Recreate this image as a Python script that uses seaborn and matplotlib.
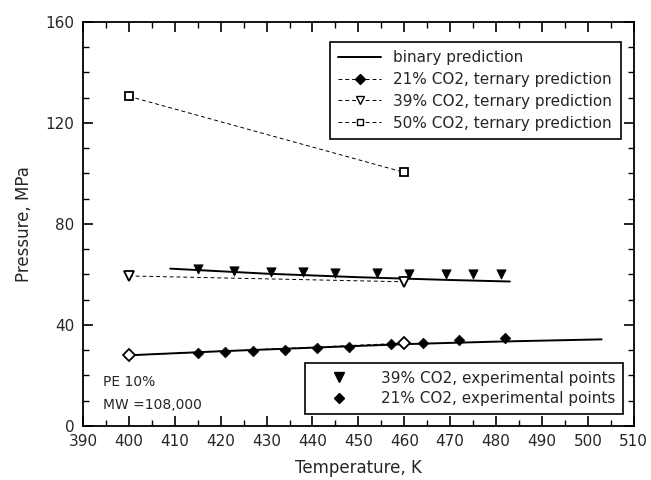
import matplotlib
matplotlib.use("Agg")
import matplotlib.pyplot as plt
import seaborn as sns
import pandas as pd
from matplotlib.lines import Line2D
from matplotlib.ticker import MultipleLocator

# ---- data ----
bin21_T = [400, 420, 440, 460, 480, 503]
bin21_P = [28.0, 29.6, 31.0, 32.4, 33.4, 34.3]
bin39_T = [409, 430, 450, 470, 483]
bin39_P = [62.3, 60.3, 58.9, 57.8, 57.2]

tern21_T = [400, 460]
tern21_P = [28.0, 32.8]
tern39_T = [400, 460]
tern39_P = [59.4, 57.1]
tern50_T = [400, 460]
tern50_P = [130.5, 100.4]

exp39_T = [415, 423, 431, 438, 445, 454, 461, 469, 475, 481]
exp39_P = [62.0, 61.5, 61.0, 61.0, 60.6, 60.4, 60.2, 60.1, 60.0, 60.0]
exp21_T = [415, 421, 427, 434, 441, 448, 457, 464, 472, 482]
exp21_P = [28.8, 29.2, 29.6, 30.0, 30.7, 31.3, 32.3, 32.9, 34.0, 34.7]

sns.set_theme(style="ticks")
plt.rcParams["font.family"] = ["DejaVu Sans"]

fig = plt.figure(figsize=(6.51, 4.80), dpi=100)
ax = fig.add_axes([0.1275, 0.1125, 0.846, 0.842])

lw_dash = 0.7
dash = (4, 3)

# binary prediction lines
sns.lineplot(x=bin21_T, y=bin21_P, ax=ax, color="black", lw=1.4)
sns.lineplot(x=bin39_T, y=bin39_P, ax=ax, color="black", lw=1.4)

# ternary predictions
sns.lineplot(x=tern21_T, y=tern21_P, ax=ax, color="black", lw=lw_dash)
ax.lines[-1].set_dashes(dash)
sns.lineplot(x=tern39_T, y=tern39_P, ax=ax, color="black", lw=lw_dash)
ax.lines[-1].set_dashes(dash)
sns.lineplot(x=tern50_T, y=tern50_P, ax=ax, color="black", lw=lw_dash)
ax.lines[-1].set_dashes(dash)

ax.plot(tern21_T, tern21_P, ls="none", marker="D", ms=6, mfc="white", mec="black", mew=1.3)
ax.plot(tern39_T, tern39_P, ls="none", marker="v", ms=7, mfc="white", mec="black", mew=1.3)
ax.plot(tern50_T, tern50_P, ls="none", marker="s", ms=6, mfc="white", mec="black", mew=1.3)

# experimental points
sns.scatterplot(x=exp39_T, y=exp39_P, ax=ax, marker="v", s=45, color="black", edgecolor="black")
sns.scatterplot(x=exp21_T, y=exp21_P, ax=ax, marker="D", s=30, color="black", edgecolor="black")

ax.set_xlim(390, 510)
ax.set_ylim(0, 160)
ax.xaxis.set_major_locator(MultipleLocator(10))
ax.xaxis.set_minor_locator(MultipleLocator(5))
ax.yaxis.set_major_locator(MultipleLocator(40))
ax.yaxis.set_minor_locator(MultipleLocator(10))
ax.tick_params(which="both", direction="in", top=True, right=True, color="black")
ax.tick_params(which="major", length=7, width=1.2, labelsize=11)
ax.tick_params(axis="x", which="major", pad=6)
ax.tick_params(axis="y", which="major", pad=6)
ax.tick_params(which="minor", length=4, width=1.0)
for s in ax.spines.values():
    s.set_color("black")
    s.set_linewidth(1.3)

ax.set_xlabel("Temperature, K", fontsize=12, labelpad=7)
ax.set_ylabel("Pressure, MPa", fontsize=12, labelpad=9)

ax.text(0.036, 0.109, "PE 10%", transform=ax.transAxes, fontsize=10, va="center")
ax.text(0.036, 0.052, "MW =108,000", transform=ax.transAxes, fontsize=10, va="center")

h1 = [
    Line2D([], [], color="black", lw=1.4),
    Line2D([], [], color="black", lw=lw_dash, ls=(0, dash), marker="D", ms=5, mfc="black", mec="black"),
    Line2D([], [], color="black", lw=lw_dash, ls=(0, dash), marker="v", ms=6, mfc="white", mec="black"),
    Line2D([], [], color="black", lw=lw_dash, ls=(0, dash), marker="s", ms=5, mfc="white", mec="black"),
]
l1 = ["binary prediction", "21% CO2, ternary prediction",
      "39% CO2, ternary prediction", "50% CO2, ternary prediction"]
leg1 = ax.legend(h1, l1, loc="upper right", bbox_to_anchor=(0.99, 0.97), fontsize=11,
                 frameon=True, fancybox=False, edgecolor="black", framealpha=1,
                 handlelength=2.8, borderpad=0.55, labelspacing=0.45)
leg1.get_frame().set_linewidth(1.2)
ax.add_artist(leg1)

h2 = [
    Line2D([], [], ls="none", marker="v", ms=7, color="black"),
    Line2D([], [], ls="none", marker="D", ms=5, color="black"),
]
l2 = ["39% CO2, experimental points", "21% CO2, experimental points"]
leg2 = ax.legend(h2, l2, loc="lower right", bbox_to_anchor=(0.995, 0.012), fontsize=11,
                 frameon=True, fancybox=False, edgecolor="black", framealpha=1,
                 handlelength=3.5, handletextpad=1.0, borderpad=0.5, labelspacing=0.35)
leg2.get_frame().set_linewidth(1.2)

fig.savefig("out.png", dpi=100)
